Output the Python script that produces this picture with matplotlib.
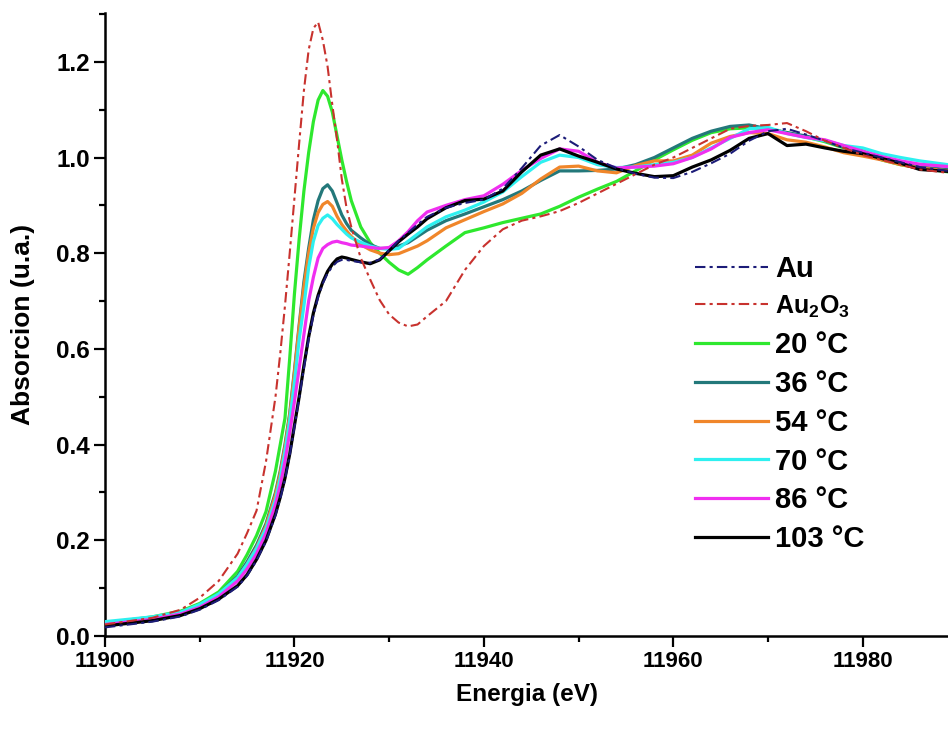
import matplotlib
matplotlib.use("Agg")
import matplotlib.pyplot as plt
from matplotlib.ticker import MultipleLocator

plt.rcParams['font.family'] = ['Liberation Sans', 'DejaVu Sans']
plt.rcParams['font.weight'] = 'bold'
plt.rcParams['mathtext.fontset'] = 'custom'
plt.rcParams['mathtext.rm'] = 'Liberation Sans:bold'
plt.rcParams['mathtext.bf'] = 'Liberation Sans:bold'
plt.rcParams['mathtext.it'] = 'Liberation Sans:bold'
plt.rcParams['mathtext.default'] = 'bf'

energy = [11900, 11905, 11908, 11910, 11912, 11914, 11915, 11916, 11917,
          11918, 11918.5, 11919, 11919.5, 11920, 11920.5, 11921, 11921.5, 11922,
          11922.5, 11923, 11923.5, 11924, 11924.5, 11925, 11925.5, 11926,
          11927, 11928, 11929, 11930, 11931, 11932, 11933, 11934,
          11936, 11938, 11940, 11942, 11944, 11946, 11948, 11950, 11952, 11954,
          11956, 11958, 11960, 11962, 11964, 11966, 11968, 11970, 11972, 11974,
          11976, 11978, 11980, 11982, 11984, 11986, 11989]

au = [0.018, 0.030, 0.041, 0.055, 0.075, 0.103, 0.126, 0.158, 0.198,
      0.252, 0.287, 0.327, 0.377, 0.437, 0.497, 0.560, 0.620, 0.670,
      0.708, 0.737, 0.758, 0.772, 0.782, 0.786, 0.786, 0.784,
      0.781, 0.780, 0.787, 0.806, 0.826, 0.843, 0.860, 0.876,
      0.895, 0.905, 0.912, 0.935, 0.978, 1.025, 1.047, 1.023, 0.995, 0.978,
      0.966, 0.958, 0.957, 0.970, 0.988, 1.008, 1.035, 1.055, 1.060, 1.048,
      1.035, 1.020, 1.010, 1.000, 0.990, 0.980, 0.972]

au2o3 = [0.024, 0.038, 0.055, 0.080, 0.115, 0.172, 0.215, 0.262, 0.365,
         0.500, 0.590, 0.690, 0.800, 0.915, 1.030, 1.140, 1.225, 1.270,
         1.283, 1.245, 1.190, 1.110, 1.037, 0.955, 0.895, 0.855,
         0.790, 0.745, 0.702, 0.672, 0.655, 0.647, 0.651, 0.668,
         0.700, 0.765, 0.815, 0.850, 0.868, 0.877, 0.888, 0.905, 0.925, 0.945,
         0.965, 0.985, 1.000, 1.020, 1.040, 1.060, 1.066, 1.068, 1.072, 1.055,
         1.035, 1.020, 1.005, 0.995, 0.985, 0.975, 0.968]

t20 = [0.027, 0.040, 0.052, 0.068, 0.092, 0.135, 0.170, 0.210, 0.260,
       0.345, 0.400, 0.455, 0.580, 0.715, 0.830, 0.930, 1.010, 1.075,
       1.120, 1.140, 1.128, 1.095, 1.045, 0.995, 0.950, 0.910,
       0.855, 0.822, 0.800, 0.781, 0.765, 0.756, 0.770, 0.786,
       0.815, 0.843, 0.853, 0.864, 0.873, 0.882, 0.898, 0.917, 0.934, 0.950,
       0.972, 0.995, 1.016, 1.036, 1.052, 1.060, 1.062, 1.060, 1.052, 1.043,
       1.033, 1.020, 1.014, 0.995, 0.985, 0.978, 0.970]

t36 = [0.026, 0.037, 0.048, 0.064, 0.087, 0.125, 0.155, 0.190, 0.235,
       0.300, 0.345, 0.400, 0.465, 0.555, 0.650, 0.740, 0.810, 0.870,
       0.910, 0.935, 0.943, 0.930, 0.905, 0.880, 0.862, 0.848,
       0.832, 0.818, 0.810, 0.810, 0.815, 0.822, 0.835, 0.848,
       0.868, 0.882, 0.897, 0.912, 0.930, 0.952, 0.972, 0.972, 0.973, 0.976,
       0.985, 1.000, 1.020, 1.040, 1.055, 1.065, 1.068, 1.060, 1.052, 1.045,
       1.035, 1.022, 1.012, 1.000, 0.990, 0.980, 0.975]

t54 = [0.025, 0.036, 0.047, 0.062, 0.085, 0.120, 0.150, 0.185, 0.230,
       0.295, 0.340, 0.395, 0.460, 0.550, 0.645, 0.730, 0.800, 0.852,
       0.885, 0.902, 0.908, 0.898, 0.877, 0.860, 0.847, 0.835,
       0.818, 0.807, 0.800, 0.797, 0.799, 0.807, 0.815, 0.826,
       0.853, 0.870, 0.887, 0.903, 0.925, 0.955, 0.980, 0.982, 0.972, 0.968,
       0.983, 0.993, 0.993, 1.005, 1.030, 1.044, 1.052, 1.050, 1.037, 1.032,
       1.022, 1.010, 1.003, 0.995, 0.985, 0.978, 0.972]

t70 = [0.030, 0.040, 0.050, 0.066, 0.088, 0.122, 0.150, 0.183, 0.225,
       0.285, 0.330, 0.385, 0.450, 0.530, 0.620, 0.690, 0.770, 0.825,
       0.858, 0.873, 0.880, 0.872, 0.860, 0.850, 0.840, 0.832,
       0.823, 0.815, 0.810, 0.808, 0.810, 0.825, 0.840, 0.855,
       0.876, 0.890, 0.907, 0.928, 0.960, 0.990, 1.005, 1.000, 0.985, 0.979,
       0.980, 0.985, 0.990, 1.000, 1.020, 1.040, 1.060, 1.063, 1.050, 1.042,
       1.035, 1.025, 1.020, 1.008, 1.000, 0.993, 0.985]

t86 = [0.024, 0.035, 0.046, 0.060, 0.082, 0.115, 0.140, 0.172, 0.215,
       0.275, 0.315, 0.365, 0.425, 0.490, 0.560, 0.630, 0.700, 0.750,
       0.790, 0.810, 0.818, 0.823, 0.825, 0.822, 0.820, 0.817,
       0.815, 0.812, 0.810, 0.812, 0.826, 0.845, 0.868, 0.886,
       0.900, 0.912, 0.920, 0.944, 0.973, 0.998, 1.018, 1.013, 0.990, 0.978,
       0.980, 0.982, 0.987, 1.000, 1.018, 1.042, 1.052, 1.058, 1.050, 1.042,
       1.037, 1.025, 1.013, 1.002, 0.993, 0.986, 0.981]

t103 = [0.021, 0.032, 0.043, 0.057, 0.077, 0.105, 0.128, 0.160, 0.200,
        0.255, 0.290, 0.330, 0.380, 0.440, 0.500, 0.565, 0.625, 0.675,
        0.712, 0.740, 0.762, 0.777, 0.788, 0.792, 0.790, 0.787,
        0.782, 0.778, 0.786, 0.805, 0.824, 0.840, 0.855, 0.872,
        0.895, 0.910, 0.913, 0.930, 0.970, 1.005, 1.018, 1.003, 0.990, 0.976,
        0.967, 0.960, 0.962, 0.980, 0.995, 1.015, 1.040, 1.050, 1.025, 1.028,
        1.020, 1.013, 1.008, 0.998, 0.988, 0.975, 0.971]

ref_labels = ['Au', r'Au$_{2}$O$_{3}$']
ref_series = [au, au2o3]
ref_colors = ['#1c1c78', '#c8322e']

temp_labels = ['20 °C', '36 °C', '54 °C', '70 °C', '86 °C', '103 °C']
temp_series = [t20, t36, t54, t70, t86, t103]
temp_colors = ['#2ee82e', '#23787a', '#f0862a', '#2ef0f0', '#f02ef0', '#000000']

fig = plt.figure(figsize=(9.48, 7.33), dpi=100)
ax = fig.add_axes([105/948, 97/733, 843/948, 623/733])

dash = (0, (5, 2, 1.5, 2))
for lab, ys, c in zip(ref_labels, ref_series, ref_colors):
    ax.plot(energy, ys, color=c, lw=1.5, linestyle=dash, label=lab, zorder=5)
for lab, ys, c in zip(temp_labels, temp_series, temp_colors):
    ax.plot(energy, ys, color=c, lw=2.3, label=lab, zorder=3)

ax.set_xlim(11900, 11989)
ax.set_ylim(0, 1.302)
ax.xaxis.set_major_locator(MultipleLocator(20))
ax.xaxis.set_minor_locator(MultipleLocator(10))
ax.yaxis.set_major_locator(MultipleLocator(0.2))
ax.yaxis.set_minor_locator(MultipleLocator(0.1))
ax.yaxis.set_major_formatter(plt.FuncFormatter(lambda v, p: f"{v:.1f}"))

for s in ['top', 'right']:
    ax.spines[s].set_visible(False)
for s in ['left', 'bottom']:
    ax.spines[s].set_linewidth(1.8)

ax.tick_params(which='major', direction='out', length=8, width=1.6, pad=3)
ax.tick_params(which='minor', direction='out', length=4, width=1.6)
ax.tick_params(axis='x', labelsize=16)
ax.tick_params(axis='y', labelsize=17.5)
for lbl in ax.get_xticklabels() + ax.get_yticklabels():
    lbl.set_fontweight('bold')

ax.set_xlabel('Energia (eV)', fontsize=17.5, fontweight='bold')
ax.set_ylabel('Absorcion (u.a.)', fontsize=19, fontweight='bold')
ax.xaxis.set_label_coords(0.5, -0.075)
ax.yaxis.set_label_coords(-0.083, 0.5)

leg = ax.legend(loc='upper left', bbox_to_anchor=(695/948, (733-255)/733),
                bbox_transform=fig.transFigure, frameon=False,
                fontsize=21, handlelength=2.5, handletextpad=0.25,
                labelspacing=0.37, borderpad=0, borderaxespad=0)
leg.get_texts()[1].set_fontsize(18)
for t in leg.get_texts():
    t.set_fontweight('bold')

fig.savefig('out.png', dpi=100)
